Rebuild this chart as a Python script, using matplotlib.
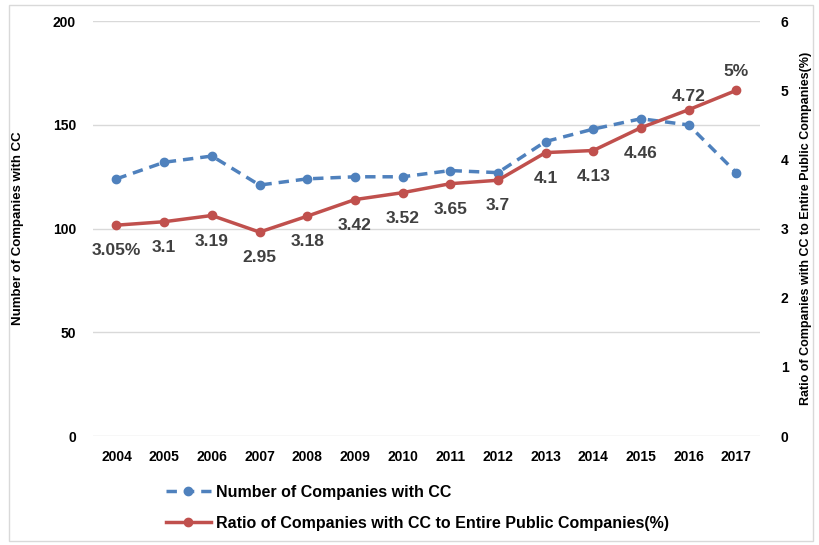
import matplotlib.pyplot as plt
from matplotlib.patches import Rectangle

years = ['2004', '2005', '2006', '2007', '2008', '2009', '2010',
         '2011', '2012', '2013', '2014', '2015', '2016', '2017']
num_companies = [124, 132, 135, 121, 124, 125, 125, 128, 127, 142, 148, 153, 150, 127]
ratio = [3.05, 3.1, 3.19, 2.95, 3.18, 3.42, 3.52, 3.65, 3.7, 4.1, 4.13, 4.46, 4.72, 5.0]
ratio_labels = ['3.05%', '3.1', '3.19', '2.95', '3.18', '3.42', '3.52',
                '3.65', '3.7', '4.1', '4.13', '4.46', '4.72', '5%']

plt.rcParams['font.family'] = ['Liberation Sans', 'DejaVu Sans']

blue = '#4F81BD'
red = '#C0504D'

fig = plt.figure(figsize=(8.2, 5.45), dpi=100)
ax = fig.add_axes([0.113, 0.2, 0.814, 0.761])
ax2 = ax.twinx()

x = list(range(len(years)))
l1, = ax.plot(x, num_companies, color=blue, lw=2.5, ls=(0, (3, 2)), marker='o', ms=6,
              label='Number of Companies with CC')
l2, = ax2.plot(x, ratio, color=red, lw=2.5, marker='o', ms=6,
               label='Ratio of Companies with CC to Entire Public Companies(%)')

ax.set_xlim(-0.5, 13.5)
ax.set_ylim(0, 200)
ax.set_yticks([0, 50, 100, 150, 200])
ax2.set_ylim(0, 6)
ax2.set_yticks(range(7))
ax.set_xticks(x)
ax.set_xticklabels(years)
ax.grid(axis='y', color='#D9D9D9', lw=1)
ax.set_axisbelow(True)

for a in (ax, ax2):
    for s in a.spines.values():
        s.set_visible(False)
    a.tick_params(length=0, labelsize=10)
    for t in a.get_xticklabels() + a.get_yticklabels():
        t.set_fontweight('bold')
ax.tick_params(axis='x', pad=10)
ax.tick_params(axis='y', pad=12)
ax2.tick_params(axis='y', pad=15)

ax.set_ylabel('Number of Companies with CC', fontsize=9.5, fontweight='bold', labelpad=21)
ax2.set_ylabel('Ratio of Companies with CC to Entire Public Companies(%)', fontsize=9,
               fontweight='bold', labelpad=8)

# data labels for the ratio series
for i, (v, lab) in enumerate(zip(ratio, ratio_labels)):
    if i >= 12:
        off = (0, 4 if i == 12 else 8)
        va = 'bottom'
    else:
        off = (0, -13)
        va = 'top'
    ax2.annotate(lab, (i, v), xytext=off, textcoords='offset points', ha='center', va=va,
                 fontsize=12.5, fontweight='bold', color='#404040')

leg = fig.legend(handles=[l1, l2], loc='upper left', bbox_to_anchor=(0.185, 0.137),
                 frameon=False, fontsize=11.5, handlelength=2.8, labelspacing=1.0,
                 handletextpad=0.3)
for t in leg.get_texts():
    t.set_fontweight('bold')

fig.add_artist(Rectangle((0.011, 0.008), 0.98, 0.983, transform=fig.transFigure,
                         fill=False, edgecolor='#D9D9D9', lw=1))

fig.savefig('out.png', dpi=100)
